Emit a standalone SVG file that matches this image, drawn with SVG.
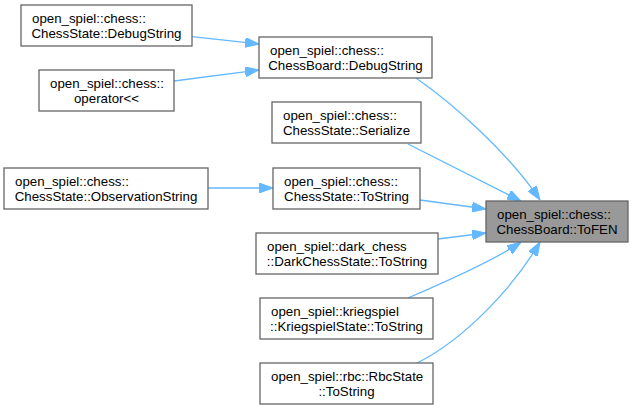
<svg xmlns="http://www.w3.org/2000/svg" width="634" height="410" viewBox="0 0 634 410">
<defs>
<marker id="ah" viewBox="0 0 14 10" refX="14" refY="5" markerWidth="14" markerHeight="10" markerUnits="userSpaceOnUse" orient="auto">
<path d="M0,0 L14,5 L0,10 z" fill="#63b8ff" stroke="#63b8ff" stroke-width="1"/>
</marker>
</defs>
<style>
.box{fill:#ffffff;stroke:#666666;stroke-width:1.3}
.hl{fill:#999999;stroke:#666666;stroke-width:1.3}
text{font-family:"Liberation Sans",Arial,Helvetica,sans-serif;font-size:13.3px;fill:#000000}
.c{text-anchor:middle}
.e{fill:none;stroke:#63b8ff;stroke-width:1.3;marker-end:url(#ah)}
</style>
<g id="edges">
<path class="e" d="M192,36.7 L259,44"/>
<path class="e" d="M174,81 L259,70"/>
<path class="e" d="M208,188 L273,188"/>
<path class="e" d="M416,78 C455,105 510,155 540,200"/>
<path class="e" d="M408,144 L521,201"/>
<path class="e" d="M420,200 L486,209"/>
<path class="e" d="M438,239 L486,233"/>
<path class="e" d="M408,298 C450,280 495,260 521,242"/>
<path class="e" d="M415,364 C465,340 515,285 540,242"/>
</g>
<g id="n1"><rect class="box" x="21" y="5" width="171" height="41"/><text x="32" y="23">open_spiel::chess::</text><text class="c" x="106.5" y="38">ChessState::DebugString</text></g>
<g id="n2"><rect class="box" x="39" y="70" width="135" height="41"/><text x="50" y="88">open_spiel::chess::</text><text class="c" x="106.5" y="103">operator&lt;&lt;</text></g>
<g id="n3"><rect class="box" x="259" y="37" width="173" height="41"/><text x="270" y="55">open_spiel::chess::</text><text class="c" x="345.5" y="70">ChessBoard::DebugString</text></g>
<g id="n4"><rect class="box" x="272" y="102" width="149" height="41"/><text x="283" y="120">open_spiel::chess::</text><text class="c" x="346.5" y="135">ChessState::Serialize</text></g>
<g id="n5"><rect class="box" x="273" y="168" width="147" height="41"/><text x="284" y="186">open_spiel::chess::</text><text class="c" x="346.5" y="201">ChessState::ToString</text></g>
<g id="n6"><rect class="hl" x="486" y="201" width="142" height="41"/><text x="497" y="219">open_spiel::chess::</text><text class="c" x="557" y="234">ChessBoard::ToFEN</text></g>
<g id="n7"><rect class="box" x="256" y="233" width="182" height="41"/><text x="267" y="251">open_spiel::dark_chess</text><text class="c" x="347" y="266">::DarkChessState::ToString</text></g>
<g id="n8"><rect class="box" x="260" y="298" width="173" height="41"/><text x="271" y="316">open_spiel::kriegspiel</text><text class="c" x="346.5" y="331">::KriegspielState::ToString</text></g>
<g id="n9"><rect class="box" x="260" y="363" width="173" height="41"/><text x="271" y="381">open_spiel::rbc::RbcState</text><text class="c" x="346.5" y="396">::ToString</text></g>
<g id="n10"><rect class="box" x="4" y="168" width="204" height="41"/><text x="15" y="186">open_spiel::chess::</text><text class="c" x="106" y="201">ChessState::ObservationString</text></g>
</svg>
